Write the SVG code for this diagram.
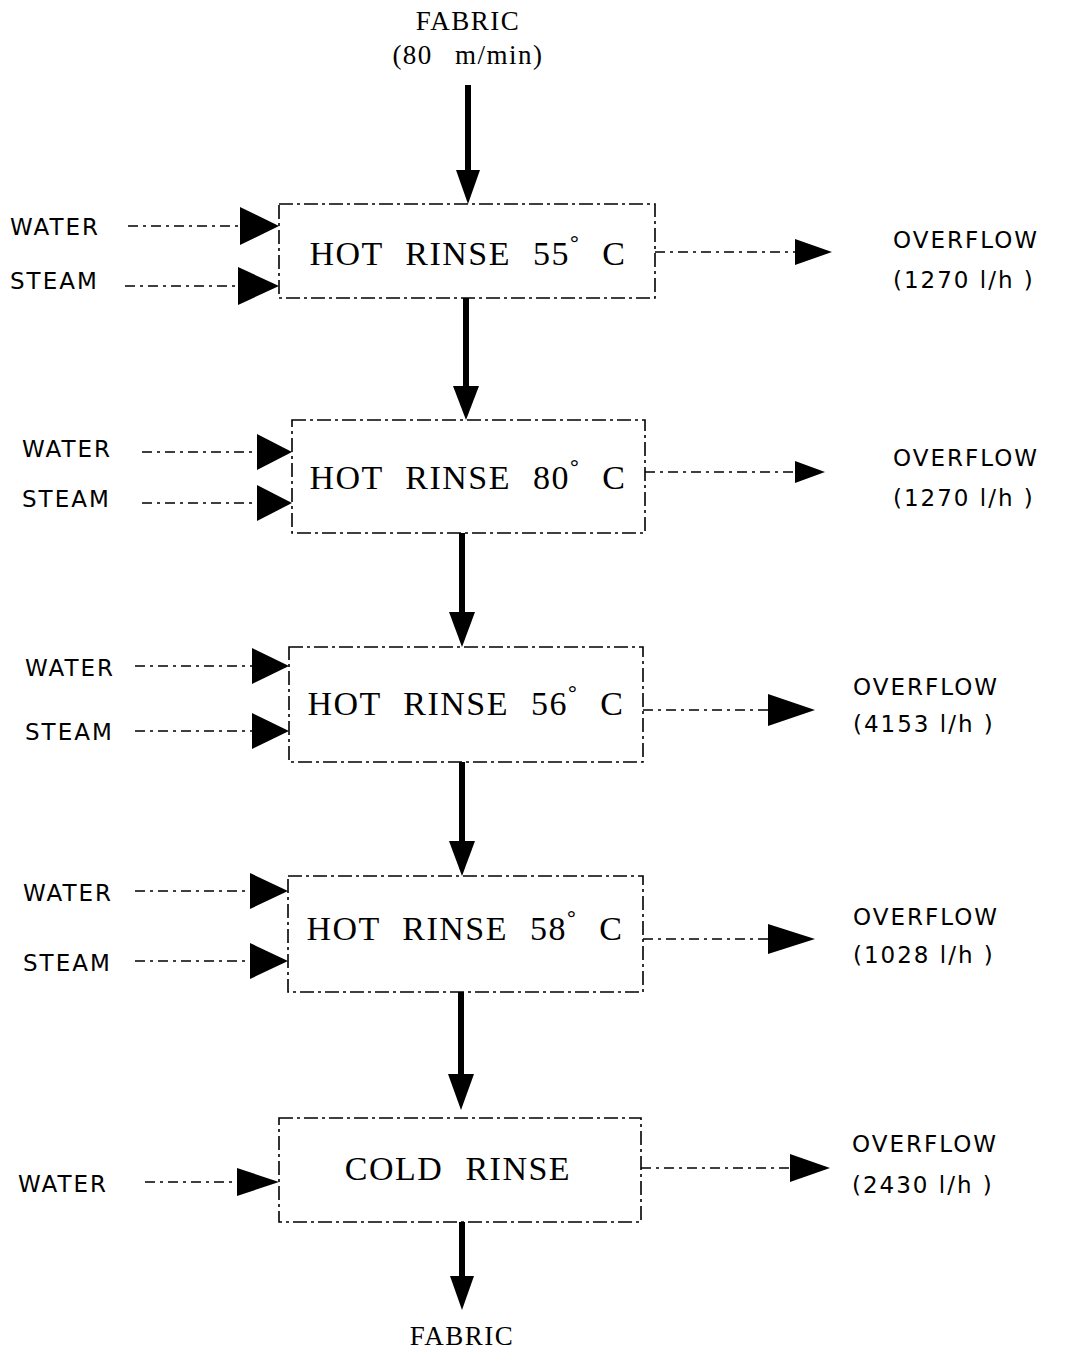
<svg xmlns="http://www.w3.org/2000/svg" width="1072" height="1355" viewBox="0 0 1072 1355">
<style>
.box{fill:none;stroke:#000;stroke-width:1.6;stroke-dasharray:14 4 3 4}
.dash{fill:none;stroke:#000;stroke-width:1.6;stroke-dasharray:10 5 3 5}
.shaft{fill:none;stroke:#000;stroke-width:6}
.head{fill:#000}
.lbl{font-family:"DejaVu Sans","Liberation Sans",sans-serif;font-size:23px;fill:#000;letter-spacing:2px}
.ttl{font-family:"Liberation Serif",serif;font-size:34px;fill:#000;letter-spacing:1.5px;text-anchor:middle}
.deg{font-size:22px;font-weight:bold}
.fab{font-family:"Liberation Serif",serif;font-size:27px;fill:#000;text-anchor:middle;letter-spacing:1.5px}
</style>
<rect width="1072" height="1355" fill="#fff"/>
<g id="fabric-in"><text class="fab" x="468" y="30">FABRIC</text><text class="fab" x="468" y="64" word-spacing="14">(80 m/min)</text></g>
<g id="fabric-out"><text class="fab" x="462" y="1345">FABRIC</text></g>

<g id="n1"><rect class="box" x="279" y="204" width="376" height="94"/><text class="ttl" x="468" y="265" word-spacing="12">HOT RINSE 55<tspan class="deg" dy="-15">°</tspan><tspan dy="15"> C</tspan></text></g>
<g id="n2"><rect class="box" x="292" y="420" width="353" height="113"/><text class="ttl" x="468" y="489" word-spacing="12">HOT RINSE 80<tspan class="deg" dy="-15">°</tspan><tspan dy="15"> C</tspan></text></g>
<g id="n3"><rect class="box" x="289" y="647" width="354" height="115"/><text class="ttl" x="466" y="715" word-spacing="12">HOT RINSE 56<tspan class="deg" dy="-15">°</tspan><tspan dy="15"> C</tspan></text></g>
<g id="n4"><rect class="box" x="288" y="876" width="355" height="116"/><text class="ttl" x="465" y="940" word-spacing="12">HOT RINSE 58<tspan class="deg" dy="-15">°</tspan><tspan dy="15"> C</tspan></text></g>
<g id="n5"><rect class="box" x="279" y="1118" width="362" height="104"/><text class="ttl" x="458" y="1180" word-spacing="12">COLD RINSE</text></g>

<g id="inputs">
<text class="lbl" x="10" y="235">WATER</text><text class="lbl" x="10" y="289">STEAM</text>
<text class="lbl" x="22" y="457">WATER</text><text class="lbl" x="22" y="507">STEAM</text>
<text class="lbl" x="25" y="676">WATER</text><text class="lbl" x="25" y="740">STEAM</text>
<text class="lbl" x="23" y="901">WATER</text><text class="lbl" x="23" y="971">STEAM</text>
<text class="lbl" x="18" y="1192">WATER</text>
</g>
<g id="outputs">
<text class="lbl" x="893" y="248">OVERFLOW</text><text class="lbl" x="893" y="288">(1270 l/h )</text>
<text class="lbl" x="893" y="466">OVERFLOW</text><text class="lbl" x="893" y="506">(1270 l/h )</text>
<text class="lbl" x="853" y="695">OVERFLOW</text><text class="lbl" x="853" y="732">(4153 l/h )</text>
<text class="lbl" x="853" y="925">OVERFLOW</text><text class="lbl" x="853" y="963">(1028 l/h )</text>
<text class="lbl" x="852" y="1152">OVERFLOW</text><text class="lbl" x="852" y="1193">(2430 l/h )</text>
</g>

<g id="connectors">
<line class="shaft" x1="468" y1="85" x2="468" y2="172"/><polygon class="head" points="456,170 480,170 468,204"/>
<line class="shaft" x1="466" y1="298" x2="466" y2="388"/><polygon class="head" points="453,386 479,386 466,420"/>
<line class="shaft" x1="462" y1="533" x2="462" y2="614"/><polygon class="head" points="449,612 475,612 462,647"/>
<line class="shaft" x1="462" y1="762" x2="462" y2="843"/><polygon class="head" points="449,841 475,841 462,876"/>
<line class="shaft" x1="461" y1="992" x2="461" y2="1076"/><polygon class="head" points="448,1074 474,1074 461,1110"/>
<line class="shaft" x1="462" y1="1222" x2="462" y2="1278"/><polygon class="head" points="450,1276 474,1276 462,1310"/>
<line class="dash" x1="128" y1="226" x2="242" y2="226"/><polygon class="head" points="240,207 240,245 279,226"/>
<line class="dash" x1="125" y1="286" x2="240" y2="286"/><polygon class="head" points="238,267 238,305 279,286"/>
<line class="dash" x1="142" y1="452" x2="258" y2="452"/><polygon class="head" points="257,434 257,470 292,452"/>
<line class="dash" x1="142" y1="503" x2="258" y2="503"/><polygon class="head" points="257,485 257,521 292,503"/>
<line class="dash" x1="135" y1="666" x2="254" y2="666"/><polygon class="head" points="252,648 252,684 289,666"/>
<line class="dash" x1="135" y1="731" x2="254" y2="731"/><polygon class="head" points="252,713 252,749 289,731"/>
<line class="dash" x1="135" y1="891" x2="252" y2="891"/><polygon class="head" points="250,873 250,909 288,891"/>
<line class="dash" x1="135" y1="961" x2="252" y2="961"/><polygon class="head" points="250,943 250,979 288,961"/>
<line class="dash" x1="145" y1="1182" x2="240" y2="1182"/><polygon class="head" points="237,1168 237,1196 279,1182"/>
<line class="dash" x1="655" y1="252" x2="797" y2="252"/><polygon class="head" points="795,239 795,265 832,252"/>
<line class="dash" x1="645" y1="472" x2="797" y2="472"/><polygon class="head" points="795,461 795,483 825,472"/>
<line class="dash" x1="643" y1="710" x2="770" y2="710"/><polygon class="head" points="768,694 768,726 815,710"/>
<line class="dash" x1="643" y1="939" x2="770" y2="939"/><polygon class="head" points="768,924 768,954 815,939"/>
<line class="dash" x1="641" y1="1168" x2="792" y2="1168"/><polygon class="head" points="790,1154 790,1182 830,1168"/>
</g>
</svg>
